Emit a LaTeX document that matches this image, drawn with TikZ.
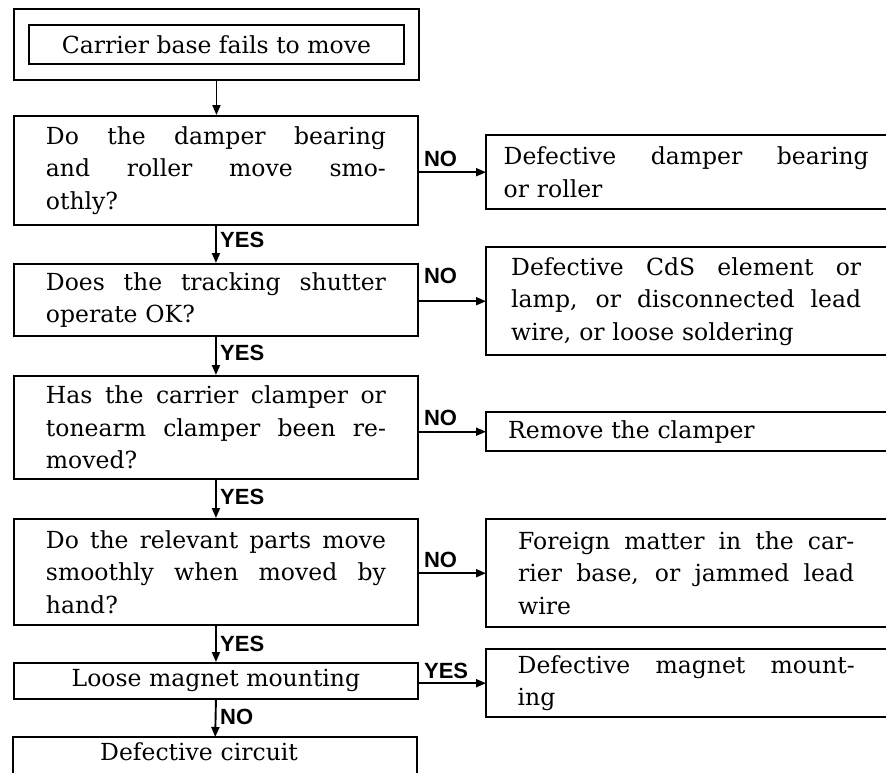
\documentclass[tikz,border=0pt]{standalone}
\usepackage{fontspec}
\setmainfont{DejaVu Serif}
\newfontfamily\lblfont{Liberation Sans}
\usetikzlibrary{arrows.meta}
\newcommand{\jl}[2]{\leavevmode\hbox to #1{\spaceskip=0.33em plus 1fil\xspaceskip=0.33em plus 1fil\relax #2}}
\begin{document}
\begin{tikzpicture}[x=1pt,y=-1pt,
  every node/.style={font=\fontsize{23.5}{32.5}\selectfont},
  box/.style={draw, line width=1.9pt, inner sep=0pt, align=left, anchor=north west},
  openbox/.style={inner sep=0pt, align=left, anchor=north west, minimum width=400pt},
  edge/.style={line width=1.9pt},
  arr/.style={line width=1.9pt, -{Triangle[length=10pt,width=8pt]}},
  lbl/.style={font=\lblfont\bfseries\fontsize{22}{22}\selectfont, inner sep=0pt}
]
\useasboundingbox (0,0) rectangle (886,772);

% left column
\node[box, minimum width=405pt, minimum height=71pt] (frame) at (13,8) {};
\node[box, minimum width=375pt, minimum height=39pt] (start) at (28,24) {Carrier base fails to move};
\node[box, minimum width=404pt, minimum height=109pt, text width=340pt] (b1) at (13,115)
  {\jl{340pt}{Do the damper bearing}\\ \jl{340pt}{and roller move smo-}\\ othly?};
\node[box, minimum width=404pt, minimum height=72pt, text width=340pt] (b2) at (13,263)
  {\jl{340pt}{Does the tracking shutter}\\ operate OK?};
\node[box, minimum width=404pt, minimum height=103pt, text width=340pt] (b3) at (13,375)
  {\jl{340pt}{Has the carrier clamper or}\\ \jl{340pt}{tonearm clamper been re-}\\ moved?};
\node[box, minimum width=404pt, minimum height=106pt, text width=340pt] (b4) at (13,518)
  {\jl{340pt}{Do the relevant parts move}\\ \jl{340pt}{smoothly when moved by}\\ hand?};
\node[box, minimum width=404pt, minimum height=36pt] (b5) at (13,662) {Loose magnet mounting};
\node[inner sep=0pt, align=left, anchor=north west, minimum width=404pt, minimum height=30pt, text width=230pt] (b6) at (13,737) {Defective circuit};
\draw[edge] ([yshift=-6pt]b6.south west) -- (b6.north west) -- (b6.north east) -- ([yshift=-6pt]b6.south east);

% right column (open on the right)
\node[openbox, minimum height=74pt, text width=365pt] (r1) at (486,135)
  {\jl{365pt}{Defective damper bearing}\\ or roller};
\node[openbox, minimum height=108pt, text width=350pt] (r2) at (486,247)
  {\jl{350pt}{Defective CdS element or}\\ \jl{350pt}{lamp, or disconnected lead}\\ wire, or loose soldering};
\node[openbox, minimum height=39pt, text width=356pt] (r3) at (486,412)
  {Remove the clamper};
\node[openbox, minimum height=108pt, text width=336pt] (r4) at (486,519)
  {\jl{336pt}{Foreign matter in the car-}\\ \jl{336pt}{rier base, or jammed lead}\\ wire};
\node[openbox, minimum height=68pt, text width=337pt] (r5) at (486,649)
  {\jl{337pt}{Defective magnet mount-}\\ ing};
\foreach \r in {r1,r2,r3,r4,r5}{
  \draw[edge] (\r.north east) -- (\r.north west) -- (\r.south west) -- (\r.south east);
}

% vertical connectors
\draw[arr] (frame.south) -- (frame.south |- b1.north);
\draw[arr] (b1.south) -- (b2.north);
\draw[arr] (b2.south) -- (b3.north);
\draw[arr] (b3.south) -- (b4.north);
\draw[arr] (b4.south) -- (b5.north);
\draw[arr] (b5.south) -- (b6.north);

\node[lbl, anchor=north west] (y1) at ([xshift=4pt,yshift=-6pt]b1.south) {YES};
\node[lbl, anchor=north west] (y2) at ([xshift=4pt,yshift=-8pt]b2.south) {YES};
\node[lbl, anchor=north west] (y3) at ([xshift=4pt,yshift=-9pt]b3.south) {YES};
\node[lbl, anchor=north west] (y4) at ([xshift=4pt,yshift=-10pt]b4.south) {YES};
\node[lbl, anchor=north west] (n5) at ([xshift=4pt,yshift=-9pt]b5.south) {NO};

% horizontal connectors
\coordinate (a1) at (b1.east |- r1.west);
\coordinate (a2) at (b2.east |- r2.west);
\coordinate (a3) at (b3.east |- r3.west);
\coordinate (a4) at (b4.east |- r4.west);
\coordinate (a5) at (b5.east |- r5.west);
\draw[arr] (a1) -- (r1.west);
\draw[arr] (a2) -- (r2.west);
\draw[arr] (a3) -- (r3.west);
\draw[arr] (a4) -- (r4.west);
\draw[arr] (a5) -- (r5.west);

\node[lbl, anchor=south west] (n1) at ([xshift=5pt,yshift=5pt]a1) {NO};
\node[lbl, anchor=south west] (n2) at ([xshift=5pt,yshift=17pt]a2) {NO};
\node[lbl, anchor=south west] (n3) at ([xshift=5pt,yshift=6pt]a3) {NO};
\node[lbl, anchor=south west] (n4) at ([xshift=5pt,yshift=5pt]a4) {NO};
\node[lbl, anchor=south west] (y5) at ([xshift=5pt,yshift=4pt]a5) {YES};
\end{tikzpicture}
\end{document}
